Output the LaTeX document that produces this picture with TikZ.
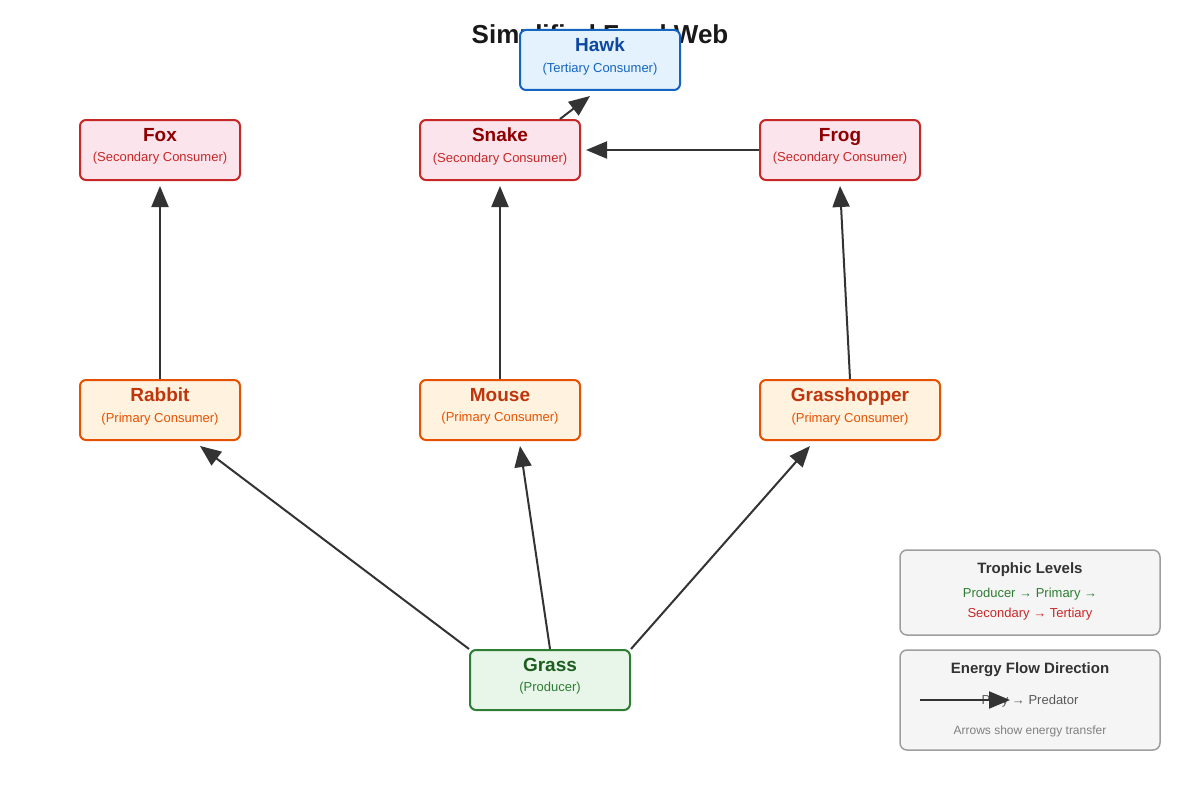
\documentclass[tikz,border=0pt]{standalone}
\usepackage{fontspec}
\setmainfont{Liberation Sans}
\usetikzlibrary{arrows.meta}
\definecolor{secF}{HTML}{FCE4EC}\definecolor{secD}{HTML}{C62828}\definecolor{secT}{HTML}{8E0000}
\definecolor{priF}{HTML}{FFF3E0}\definecolor{priD}{HTML}{E65100}\definecolor{priT}{HTML}{BF360C}
\definecolor{terF}{HTML}{E3F2FD}\definecolor{terD}{HTML}{1565C0}\definecolor{terT}{HTML}{0D47A1}
\definecolor{proF}{HTML}{E8F5E9}\definecolor{proD}{HTML}{2E7D32}\definecolor{proT}{HTML}{1B5E20}
\definecolor{legF}{HTML}{F5F5F5}\definecolor{legD}{HTML}{9E9E9E}\definecolor{ink}{HTML}{333333}
\tikzset{
 box/.style={draw,line width=2pt,rounded corners=6pt,minimum width=160pt,minimum height=60pt,align=center,inner sep=0pt},
 sec/.style={box,fill=secF,draw=secD},
 pri/.style={box,fill=priF,draw=priD},
 ter/.style={box,fill=terF,draw=terD},
 pro/.style={box,fill=proF,draw=proD},
 flow/.style={draw=ink,line width=2pt,-{Triangle[length=21pt,width=17pt]}},
 leg/.style={draw=legD,fill=legF,line width=1.5pt,rounded corners=7pt,minimum width=260pt,inner sep=0pt}
}
\newcommand{\lab}[4]{{\fontsize{19}{22}\selectfont\bfseries\color{#1}\vphantom{Ag}#2}\\[6pt]{\fontsize{13}{15}\selectfont\color{#3}\vphantom{Ag(}#4}\\[-2pt]}
\begin{document}
\begin{tikzpicture}[x=1pt,y=-1pt]
\useasboundingbox (0,0) rectangle (1200,800);
\node[font=\fontsize{26}{30}\selectfont\bfseries,text=black!90] (title) at (600,37) {Simplified Food Web};
\node[ter] (hawk) at (600,60) {\lab{terT}{Hawk}{terD}{(Tertiary Consumer)}};
\node[sec] (fox) at (160,150) {\lab{secT}{Fox}{secD}{(Secondary Consumer)}};
\node[sec] (snake) at (500,150) {\lab{secT}{Snake}{secD}{(Secondary Consumer)}};
\node[sec] (frog) at (840,150) {\lab{secT}{Frog}{secD}{(Secondary Consumer)}};
\node[pri] (rabbit) at (160,410) {\lab{priT}{Rabbit}{priD}{(Primary Consumer)}};
\node[pri] (mouse) at (500,410) {\lab{priT}{Mouse}{priD}{(Primary Consumer)}};
\node[pri,minimum width=180pt] (grasshopper) at (850,410) {\lab{priT}{Grasshopper}{priD}{(Primary Consumer)}};
\node[pro] (grass) at (550,680) {\lab{proT}{Grass}{proD}{(Producer)}};
\draw[flow] (rabbit.north) -- ([yshift=-5pt]fox.south);
\draw[flow] (mouse.north) -- ([yshift=-5pt]snake.south);
\draw[flow] (grasshopper.north) -- ([xshift=-10pt,yshift=-5pt]grasshopper.north |- frog.south);
\draw[flow] (frog.west) -- ([xshift=5pt]snake.east);
\draw[flow] ([xshift=60pt]snake.north) -- ([xshift=-10pt,yshift=-5pt]hawk.south);
\draw[flow] (grass.north west) -- ([xshift=40pt,yshift=-5pt]rabbit.south);
\draw[flow] (grass.north) -- ([xshift=20pt,yshift=-5pt]mouse.south);
\draw[flow] (grass.north east) -- ([xshift=-40pt,yshift=-5pt]grasshopper.south);
\node[leg,minimum height=85pt] (lv) at (1030,592.5) {};
\node[font=\fontsize{15}{18}\selectfont\bfseries,text=ink] (lvt) at (1030,570) {Trophic Levels};
\node[font=\fontsize{13}{15}\selectfont,text=proD] (lv1) at (1030,594) {Producer → Primary →};
\node[font=\fontsize{13}{15}\selectfont,text=secD] (lv2) at (1030,614) {Secondary → Tertiary};
\node[leg,minimum height=100pt] (ef) at (1030,700) {};
\node[font=\fontsize{15}{18}\selectfont\bfseries,text=ink] (eft) at (1030,670) {Energy Flow Direction};
\node[font=\fontsize{13}{15}\selectfont,text=black!65] (efl) at (1030,701) {Prey → Predator};
\coordinate (a0) at (920,700); \coordinate (a1) at (1010,700);
\draw[flow] (a0) -- (a1);
\node[font=\fontsize{12}{14}\selectfont,text=black!50] (efn) at (1030,731) {Arrows show energy transfer};
\end{tikzpicture}
\end{document}
